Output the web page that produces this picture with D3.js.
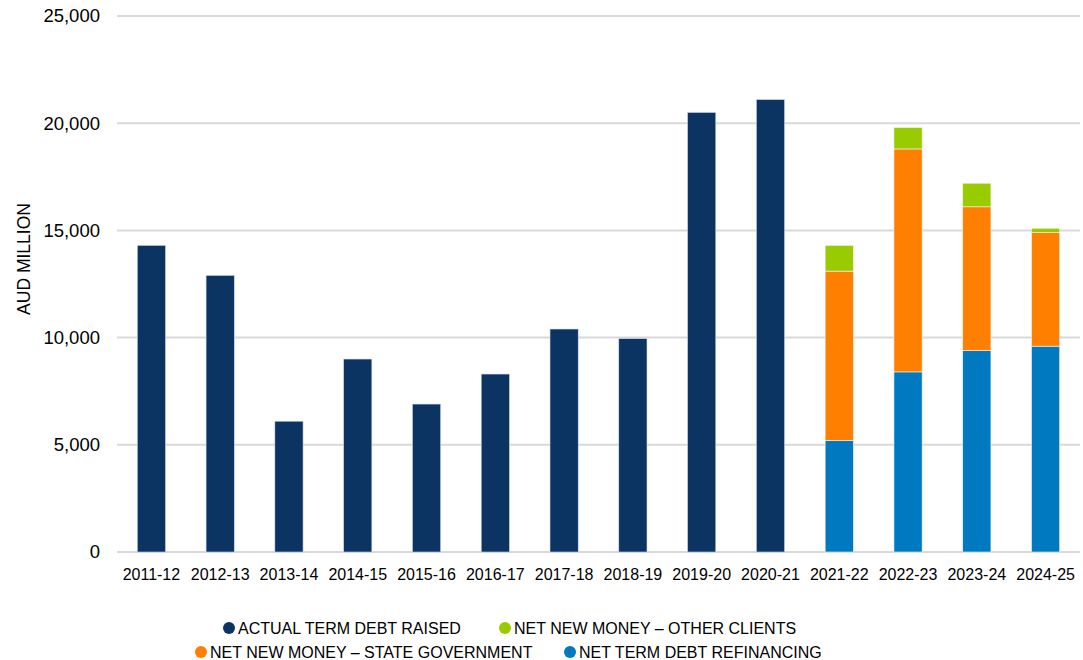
<!DOCTYPE html>
<html>
<head>
<meta charset="utf-8">
<script src="https://cdn.jsdelivr.net/npm/d3@7"></script>
<style>
  body { margin: 0; background: #fff; }
  svg { display: block; font-family: "Liberation Sans", Arial, sans-serif; }
</style>
</head>
<body>
<svg id="chart" width="1083" height="660"></svg>
<script>
// Financial years
const years = ["2011-12","2012-13","2013-14","2014-15","2015-16","2016-17","2017-18",
               "2018-19","2019-20","2020-21","2021-22","2022-23","2023-24","2024-25"];

// Actual term debt raised (AUD million), historical years
const actualYears = ["2011-12","2012-13","2013-14","2014-15","2015-16","2016-17","2017-18",
                     "2018-19","2019-20","2020-21"];
const actualValues = [14300, 12900, 6100, 9000, 6900, 8300, 10400, 9950, 20500, 21100];

// Projected years, stacked components (AUD million)
const projYears = ["2021-22","2022-23","2023-24","2024-25"];
const refinancing = [5200, 8400, 9400, 9600];
const stateGov = [7900, 10400, 6700, 5300];
const otherClients = [1200, 1000, 1100, 200];

const yTicks = [0, 5000, 10000, 15000, 20000, 25000];

const colors = {
  actual: "#0b3463",
  other: "#99cc00",
  state: "#ff8000",
  refi: "#0079c1"
};

const svg = d3.select("#chart");
const margin = { left: 117, right: 3, top: 16, bottom: 108 };
const W = 1083, H = 660;

const x = d3.scaleBand().domain(years)
  .range([margin.left, W - margin.right]).paddingInner(0.59).paddingOuter(0.295);
const y = d3.scaleLinear().domain([0, 25000]).range([H - margin.bottom, margin.top]);

// gridlines
svg.append("g").selectAll("line").data(yTicks).join("line")
  .attr("x1", margin.left).attr("x2", W - margin.right)
  .attr("y1", d => y(d)).attr("y2", d => y(d))
  .attr("stroke", "#d9d9d9").attr("stroke-width", 2);

// y axis labels
const yAxis = d3.axisLeft(y).tickValues(yTicks).tickFormat(d3.format(",")).tickSize(0).tickPadding(17);
const gy = svg.append("g").attr("transform", `translate(${margin.left},0)`).call(yAxis);
gy.select(".domain").remove();
gy.selectAll("text").attr("font-size", 18.5).attr("fill", "#000")
  .attr("font-family", "Liberation Sans, Arial, sans-serif");

// x axis labels
const xAxis = d3.axisBottom(x).tickSize(0).tickPadding(17);
const gx = svg.append("g").attr("transform", `translate(0,${y(0)})`).call(xAxis);
gx.select(".domain").remove();
gx.selectAll("text").attr("font-size", 16).attr("fill", "#000")
  .attr("font-family", "Liberation Sans, Arial, sans-serif");

// axis title
svg.append("text")
  .attr("transform", `translate(30,259) rotate(-90)`)
  .attr("text-anchor", "middle").attr("font-size", 17.5).attr("fill", "#000")
  .text("AUD MILLION");

// actual bars
svg.append("g").selectAll("rect").data(actualYears.map((k, i) => ({ k, v: actualValues[i] })))
  .join("rect")
  .attr("x", d => x(d.k)).attr("width", x.bandwidth())
  .attr("y", d => y(d.v)).attr("height", d => y(0) - y(d.v))
  .attr("fill", colors.actual).attr("stroke", "#cfd8e6").attr("stroke-width", 0.6);

// stacked projection bars
const stackRows = projYears.map((k, i) => ({ k, refi: refinancing[i], state: stateGov[i], other: otherClients[i] }));
const stack = d3.stack().keys(["refi", "state", "other"])(stackRows);
svg.append("g").selectAll("g").data(stack).join("g")
  .attr("fill", d => colors[d.key])
  .selectAll("rect").data(d => d).join("rect")
  .attr("x", d => x(d.data.k)).attr("width", x.bandwidth())
  .attr("y", d => y(d[1])).attr("height", d => y(d[0]) - y(d[1]))
  .attr("stroke", "#f4f4f4").attr("stroke-width", 0.6);

// legend
const legendItems = [
  { label: "ACTUAL TERM DEBT RAISED", color: colors.actual, cx: 229, cy: 628 },
  { label: "NET NEW MONEY \u2013 OTHER CLIENTS", color: colors.other, cx: 505, cy: 628 },
  { label: "NET NEW MONEY \u2013 STATE GOVERNMENT", color: colors.state, cx: 201, cy: 652 },
  { label: "NET TERM DEBT REFINANCING", color: colors.refi, cx: 570, cy: 652 }
];
const lg = svg.append("g").selectAll("g").data(legendItems).join("g");
lg.append("circle").attr("cx", d => d.cx).attr("cy", d => d.cy).attr("r", 6).attr("fill", d => d.color);
lg.append("text").attr("x", d => d.cx + 9).attr("y", d => d.cy + 5.7)
  .attr("font-size", 16).attr("fill", "#000").text(d => d.label);
</script>
</body>
</html>
